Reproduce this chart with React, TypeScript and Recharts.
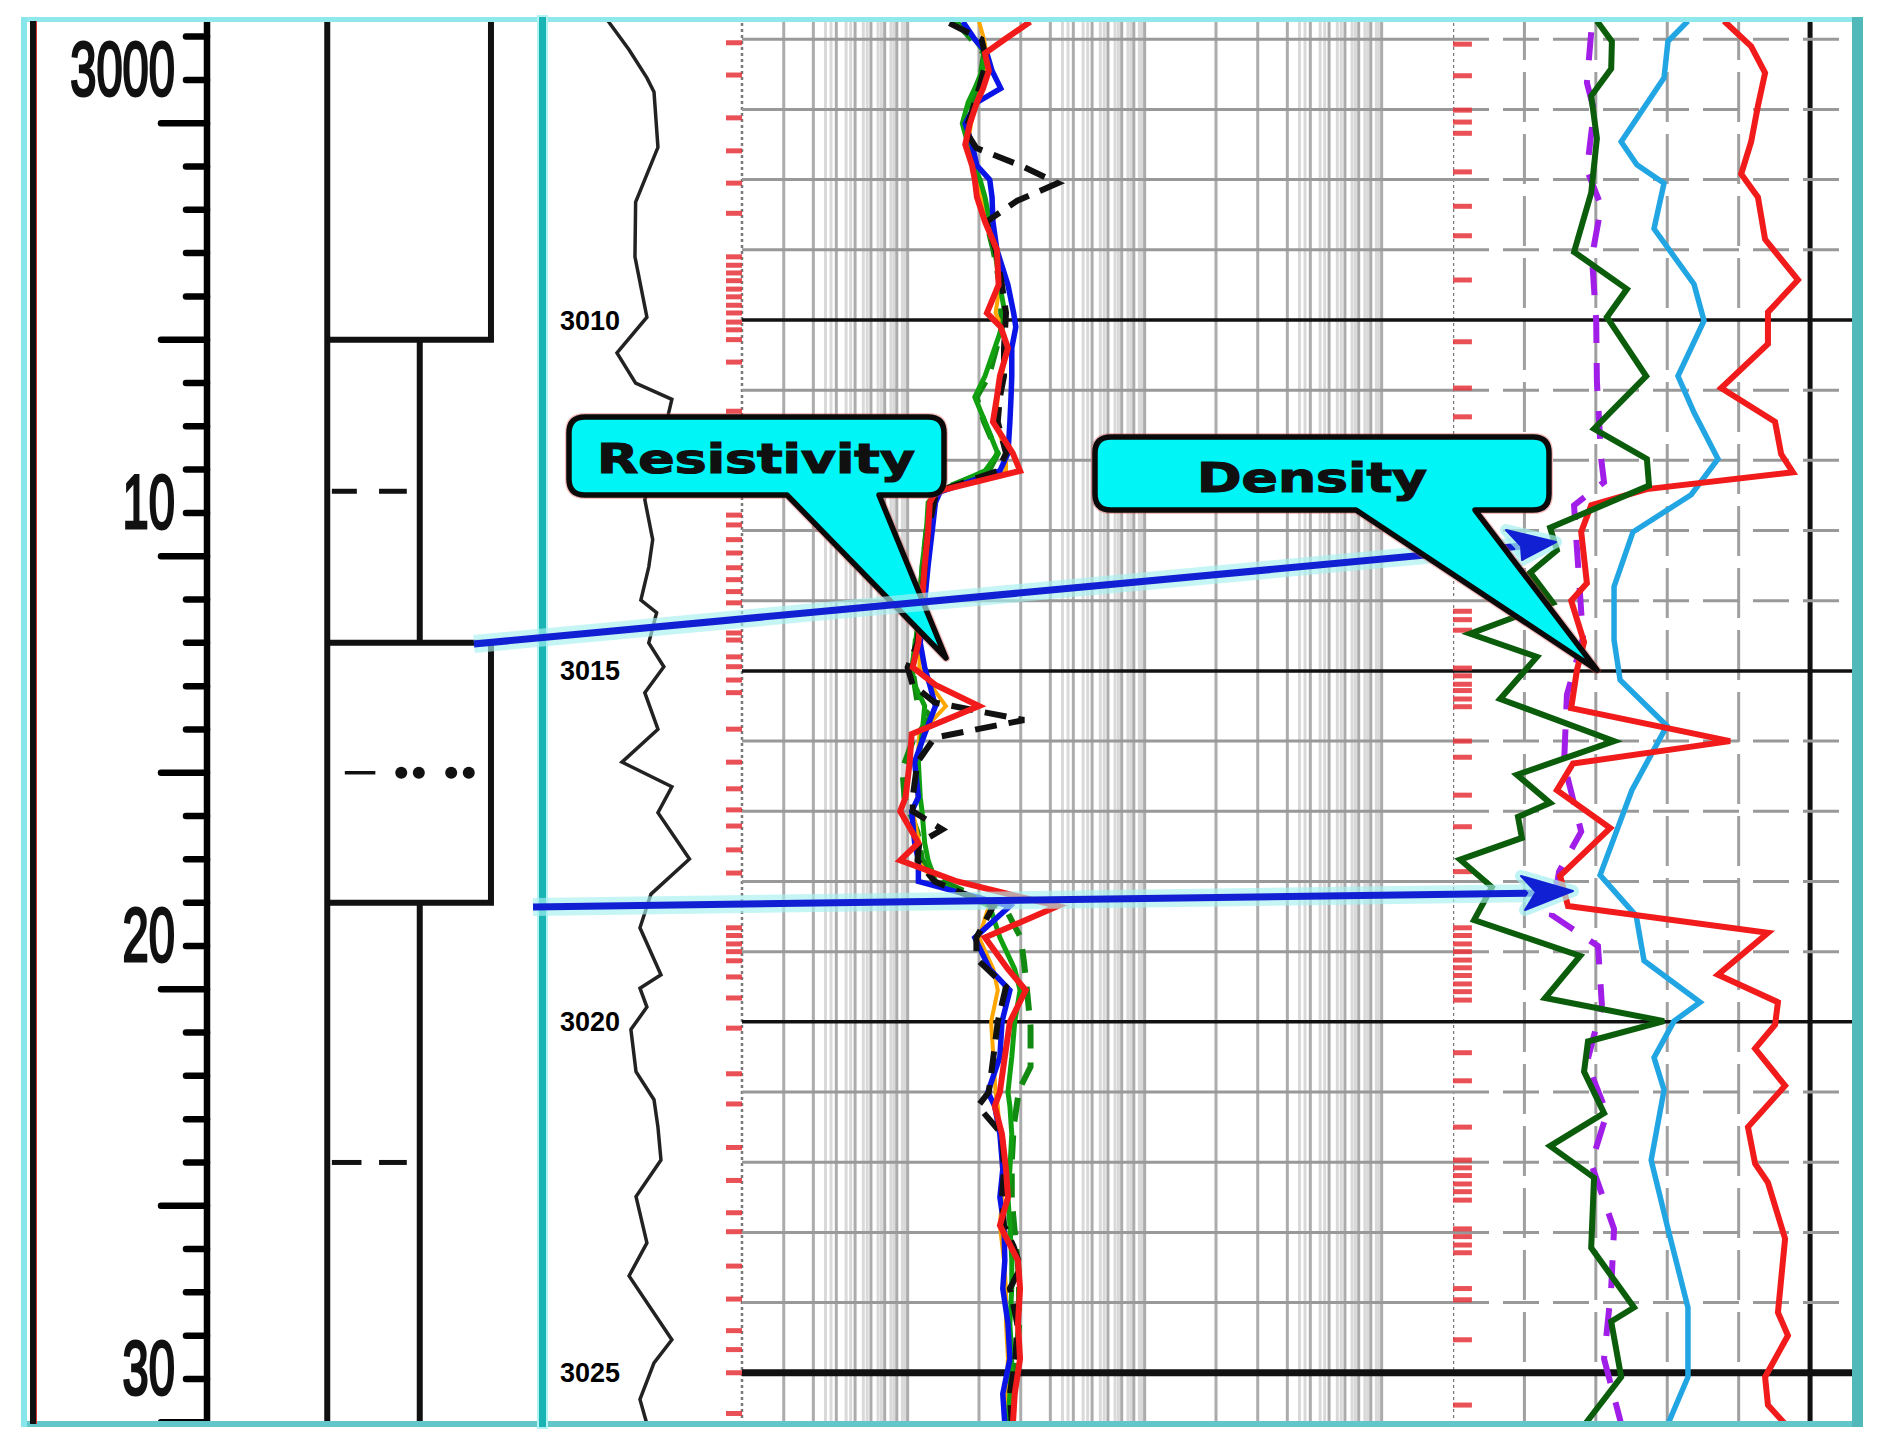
import React from 'react';
import { LineChart, Line, XAxis, YAxis, ReferenceLine, ReferenceArea, ReferenceDot } from 'recharts';

type Pt = [number, number];

// ---------- core description panel (left) ----------
const coreTicks = [2999, 3000, 3001, 3002, 3003, 3004, 3005, 3006, 3007, 3008, 3009, 3010, 3011, 3012, 3013, 3014, 3015, 3016, 3017, 3018, 3019, 3020, 3021, 3022, 3023, 3024, 3025, 3026, 3027, 3028, 3029, 3030, 3031];
const coreLongTicks = [3001, 3006, 3011, 3016, 3021, 3026, 3031];
const coreTickLabels: Record<number, string> = { 3000: '3000', 3010: '10', 3020: '20', 3030: '30' };

// grain-size profile: 0 = base, 1 = fine, 1.77 = coarse
const profileDepths = [2998.64, 3006, 3006, 3006, 3013, 3013, 3013, 3019, 3019, 3019, 3031.04];
const profileWidths = [1.77, 1.77, 0, 1, 1, 0, 1.77, 1.77, 0, 1, 1];
const symbolDashes = [
  { d: 3009.5, from: 0.05, to: 0.32, w: 5 },
  { d: 3009.5, from: 0.56, to: 0.86, w: 5 },
  { d: 3016, from: 0.19, to: 0.52, w: 3.5 },
  { d: 3025, from: 0.05, to: 0.37, w: 5 },
  { d: 3025, from: 0.56, to: 0.86, w: 5 },
];
const symbolDots = [0.8, 0.99, 1.34, 1.53];
const symbolDotDepth = 3016;

// ---------- log panel (right) ----------
const depthMarks = [3010, 3015, 3020, 3025];
const gridDepths = [3006, 3007, 3008, 3009, 3011, 3012, 3013, 3014, 3016, 3017, 3018, 3019, 3021, 3022, 3023, 3024];

const grLog: Pt[] = [
  [3005.74, 48], [3006.15, 64], [3006.55, 77.6], [3006.75, 83], [3007.54, 86], [3008.32, 69], [3009.1, 68.5],
  [3009.96, 77.6], [3010.47, 54.8], [3010.9, 69], [3011.13, 96.6], [3011.85, 87.5], [3012.56, 76], [3013.13, 82],
  [3013.52, 79], [3013.99, 73], [3014.17, 85], [3014.6, 79], [3014.94, 90.5], [3015.31, 76], [3015.83, 86],
  [3016.3, 58.6], [3016.65, 96.6], [3017.02, 86], [3017.68, 110], [3018.18, 80.7], [3018.66, 72.3], [3019.33, 88.3],
  [3019.52, 72.3], [3019.79, 77.6], [3020.11, 65.4], [3020.71, 69.3], [3021.11, 83], [3021.5, 86], [3021.97, 88.3],
  [3022.49, 69.3], [3023.15, 77.6], [3023.62, 64], [3024.53, 96.6], [3024.86, 83], [3025.38, 72.3], [3025.73, 77.6],
];

// resistivity, ohm.m (log track 0.2 - 200)
const resRed: Pt[] = [
  [3005.75, 3.29], [3006.0, 2.57], [3006.2, 2.12], [3006.45, 2.2], [3006.7, 2.08], [3006.9, 1.96], [3007.2, 1.83],
  [3007.5, 1.75], [3007.8, 1.87], [3008.0, 1.92], [3008.25, 1.96], [3008.6, 2.12], [3009.0, 2.38], [3009.5, 2.42],
  [3009.9, 2.16], [3010.1, 2.47], [3010.4, 2.65], [3010.8, 2.45], [3011.1, 2.38], [3011.45, 2.29], [3011.9, 2.78],
  [3012.15, 2.98], [3012.45, 1.31], [3012.6, 1.24], [3013.0, 1.22], [3013.5, 1.18], [3014.0, 1.15], [3014.6, 1.11],
  [3014.95, 1.05], [3015.2, 1.31], [3015.5, 2.0], [3015.9, 1.04], [3016.3, 1.02], [3016.8, 0.98], [3017.0, 0.93],
  [3017.45, 1.11], [3017.7, 0.93], [3018.0, 1.62], [3018.35, 4.3], [3018.8, 2.12], [3019.25, 2.65], [3019.55, 3.15],
  [3020.0, 2.7], [3020.5, 2.57], [3021.0, 2.45], [3021.2, 2.33], [3021.6, 2.5], [3022.1, 2.6], [3022.5, 2.65],
  [3022.9, 2.45], [3023.4, 2.92], [3023.8, 2.98], [3024.3, 2.92], [3024.8, 2.98], [3025.3, 2.83], [3025.73, 2.78],
];
const resBlue: Pt[] = [
  [3005.75, 1.71], [3006.0, 1.92], [3006.2, 2.16], [3006.45, 2.27], [3006.7, 2.47], [3006.9, 1.96], [3007.2, 1.75],
  [3007.5, 1.87], [3007.8, 1.96], [3008.0, 2.22], [3008.25, 2.27], [3008.6, 2.29], [3009.0, 2.38], [3009.5, 2.65],
  [3009.9, 2.8], [3010.1, 2.86], [3010.4, 2.75], [3010.8, 2.75], [3011.1, 2.73], [3011.45, 2.7], [3011.9, 2.65],
  [3012.15, 2.45], [3012.45, 1.37], [3012.6, 1.31], [3013.0, 1.27], [3013.5, 1.22], [3014.0, 1.18], [3014.6, 1.13],
  [3014.95, 1.18], [3015.2, 1.24], [3015.5, 1.31], [3015.9, 1.18], [3016.3, 1.07], [3016.8, 1.11], [3017.0, 1.04],
  [3017.45, 1.07], [3017.7, 1.11], [3018.0, 1.11], [3018.35, 2.7], [3018.8, 1.92], [3019.25, 2.22], [3019.55, 2.7],
  [3020.0, 2.5], [3020.5, 2.45], [3021.0, 2.18], [3021.2, 2.33], [3021.6, 2.45], [3022.1, 2.52], [3022.5, 2.45],
  [3022.9, 2.55], [3023.4, 2.57], [3023.8, 2.52], [3024.3, 2.65], [3024.8, 2.7], [3025.3, 2.52], [3025.73, 2.57],
];
const resGreen: Pt[] = [
  [3005.75, 1.58], [3006.0, 1.92], [3006.2, 2.12], [3006.45, 2.06], [3006.7, 1.92], [3006.9, 1.8], [3007.2, 1.7],
  [3007.5, 1.8], [3007.8, 1.9], [3008.0, 2.02], [3008.25, 2.12], [3008.6, 2.22], [3009.0, 2.33], [3009.5, 2.45],
  [3009.9, 2.57], [3010.1, 2.5], [3010.4, 2.33], [3010.8, 2.12], [3011.1, 1.92], [3011.45, 2.12], [3011.9, 2.4],
  [3012.15, 2.12], [3012.45, 1.33], [3012.6, 1.22], [3013.0, 1.2], [3013.5, 1.15], [3014.0, 1.13], [3014.6, 1.08],
  [3014.95, 1.04], [3015.2, 1.07], [3015.5, 1.18], [3015.9, 1.15], [3016.3, 1.11], [3016.8, 1.13], [3017.0, 1.15],
  [3017.45, 1.18], [3017.7, 1.22], [3018.0, 1.31], [3018.35, 2.22], [3018.8, 2.45], [3019.25, 2.83], [3019.55, 2.98],
  [3020.0, 2.83], [3020.5, 2.75], [3021.0, 2.65], [3021.2, 2.7], [3021.6, 2.75], [3022.1, 2.7], [3022.5, 2.65],
  [3022.9, 2.7], [3023.4, 2.75], [3023.8, 2.75], [3024.3, 2.7], [3024.8, 2.75], [3025.3, 2.7], [3025.73, 2.65],
];
const resOrange: Pt[] = [
  [3005.75, 2.0], [3006.0, 2.1], [3006.2, 2.15], [3006.45, 2.15], [3006.7, 2.05], [3006.9, 1.95], [3007.2, 1.85],
  [3007.5, 1.8], [3007.8, 1.9], [3008.0, 1.98], [3008.25, 2.05], [3008.6, 2.18], [3009.0, 2.35], [3009.5, 2.45],
  [3009.9, 2.35], [3010.1, 2.5], [3010.4, 2.6], [3010.8, 2.5], [3011.1, 2.4], [3011.45, 2.35], [3011.9, 2.6],
  [3012.15, 2.6], [3012.45, 1.35], [3012.6, 1.27], [3013.0, 1.25], [3013.5, 1.2], [3014.0, 1.17], [3014.6, 1.13],
  [3014.95, 1.12], [3015.2, 1.25], [3015.5, 1.45], [3015.9, 1.12], [3016.3, 1.1], [3016.8, 1.1], [3017.0, 1.05],
  [3017.45, 1.12], [3017.7, 1.1], [3018.0, 1.3], [3018.35, 2.2], [3018.8, 2.0], [3019.25, 2.3], [3019.55, 2.4],
  [3020.0, 2.25], [3020.5, 2.3], [3021.0, 2.35], [3021.2, 2.4], [3021.6, 2.45], [3022.1, 2.5], [3022.5, 2.5],
  [3022.9, 2.45], [3023.4, 2.55], [3023.8, 2.6], [3024.3, 2.6], [3024.8, 2.65], [3025.3, 2.6], [3025.73, 2.6],
];
const resBlackDash: Pt[] = [
  [3005.77, 1.5], [3006.0, 2.05], [3006.3, 2.15], [3006.7, 2.0], [3007.0, 1.88], [3007.3, 1.75], [3007.55, 1.95],
  [3007.8, 3.0], [3008.05, 4.3], [3008.3, 2.9], [3008.6, 2.15], [3009.0, 2.35], [3009.5, 2.5], [3009.9, 2.6],
  [3010.4, 2.55], [3010.8, 2.55], [3011.1, 2.45], [3011.45, 2.4], [3011.9, 2.6], [3012.15, 2.4], [3012.45, 1.32],
  [3013.0, 1.22], [3013.5, 1.18], [3014.0, 1.15], [3014.6, 1.1], [3014.95, 1.0], [3015.2, 1.05], [3015.45, 1.3],
  [3015.7, 3.1], [3015.95, 1.3], [3016.3, 1.1], [3016.8, 1.05], [3017.0, 1.05], [3017.26, 1.4], [3017.45, 1.12],
  [3017.7, 1.1], [3018.0, 1.3], [3018.35, 2.3], [3018.8, 1.95], [3019.1, 1.95], [3019.5, 2.6], [3020.0, 2.4],
  [3020.5, 2.3], [3021.0, 2.2], [3021.2, 1.98], [3021.6, 2.5], [3022.1, 2.55], [3022.5, 2.5], [3022.9, 2.55],
  [3023.2, 2.8], [3023.5, 3.0], [3023.8, 2.7], [3024.3, 2.9], [3024.8, 2.85], [3025.3, 2.7], [3025.73, 2.75],
];
const resGreenDash: Pt[] = [
  [3005.75, 1.6], [3006.2, 2.1], [3006.7, 2.0], [3007.2, 1.75], [3007.8, 1.9], [3008.25, 2.05], [3008.6, 2.15],
  [3009.0, 2.3], [3009.5, 2.45], [3010.1, 2.5], [3010.8, 2.2], [3011.1, 1.95], [3011.45, 2.1], [3011.9, 2.4],
  [3012.15, 2.2], [3012.45, 1.3], [3013.0, 1.2], [3014.0, 1.12], [3014.6, 1.08], [3015.0, 1.05], [3015.45, 1.1],
  [3015.65, 1.25], [3016.0, 1.05], [3016.4, 0.95], [3016.8, 0.97], [3017.3, 1.1], [3017.7, 1.15], [3018.0, 1.4],
  [3018.4, 2.6], [3018.8, 3.0], [3019.16, 3.1], [3019.6, 3.2], [3020.07, 3.3], [3020.64, 3.3], [3020.97, 2.95],
  [3021.5, 2.8], [3022.0, 2.75], [3022.54, 2.75], [3023.1, 2.85], [3023.63, 2.95], [3024.34, 2.95], [3024.8, 2.85],
  [3025.28, 2.7], [3025.73, 2.7],
];
const resGridLines = [0.3, 0.4, 0.5, 0.6, 0.7, 0.8, 0.9, 1, 2, 3, 4, 5, 6, 7, 8, 9, 10, 20, 30, 40, 50, 60, 70, 80, 90, 100];
const resShadeLines = [
  0.45, 0.55, 0.65, 0.75, 0.85, 0.95, 0.475, 0.575, 0.675, 0.775, 0.875, 0.975,
  4.5, 5.5, 6.5, 7.5, 8.5, 9.5, 4.75, 5.75, 6.75, 7.75, 8.75, 9.75,
  45, 55, 65, 75, 85, 95, 47.5, 57.5, 67.5, 77.5, 87.5, 97.5,
];

// density / porosity track, % of track scale
const denGreen: Pt[] = [
  [3005.74, 40.3], [3006.03, 44.5], [3006.42, 44.3], [3006.81, 38.7], [3007.41, 40.3], [3008.19, 38.7], [3009.03, 33.9],
  [3009.56, 48.7], [3009.96, 43.1], [3010.8, 54.1], [3011.55, 39.5], [3011.98, 54.3], [3012.36, 54.9], [3012.96, 27.2],
  [3013.28, 29.1], [3013.6, 21.6], [3014.03, 28.0], [3014.47, 4.8], [3014.8, 23.5], [3015.4, 13.2], [3016.0, 45.1],
  [3016.48, 17.9], [3016.88, 27.2], [3017.08, 18.2], [3017.38, 19.3], [3017.69, 2.0], [3018.08, 10.9], [3018.55, 5.9],
  [3019.06, 35.6], [3019.66, 25.8], [3019.99, 59.1], [3020.28, 37.8], [3020.71, 36.7], [3021.3, 42.3], [3021.77, 27.2],
  [3022.22, 39.5], [3023.22, 38.7], [3024.07, 50.7], [3024.27, 44.3], [3025.06, 47.1], [3025.73, 37.0],
];
const denRed: Pt[] = [
  [3005.74, 75.9], [3006.1, 83.5], [3006.48, 87.4], [3006.95, 85.4], [3007.46, 83.5], [3007.92, 80.7], [3008.25, 85.4],
  [3008.85, 87.4], [3009.43, 96.6], [3009.89, 88.2], [3010.34, 88.2], [3010.97, 75.1], [3011.45, 90.2], [3011.91, 91.9],
  [3012.17, 95.2], [3012.41, 54.3], [3012.64, 38.7], [3013.02, 35.9], [3013.75, 37.5], [3014.0, 33.1], [3014.59, 36.7],
  [3014.99, 34.7], [3015.53, 33.1], [3016.0, 77.6], [3016.32, 33.6], [3016.7, 29.1], [3017.24, 44.0], [3017.92, 30.0],
  [3018.35, 32.2], [3018.73, 88.2], [3019.33, 74.2], [3019.72, 91.0], [3020.04, 90.2], [3020.38, 84.6], [3020.91, 93.0],
  [3021.5, 82.6], [3022.02, 84.6], [3022.29, 88.2], [3023.09, 93.0], [3024.14, 91.0], [3024.47, 93.8], [3025.06, 87.4],
  [3025.46, 88.2], [3025.73, 93.0],
];
const denBlue: Pt[] = [
  [3005.74, 65.8], [3006.03, 60.2], [3006.55, 59.1], [3007.46, 47.1], [3007.79, 51.5], [3008.05, 59.1], [3008.7, 56.3],
  [3009.49, 67.5], [3010.01, 70.3], [3010.8, 63.0], [3011.32, 67.5], [3011.98, 74.2], [3012.49, 66.7], [3013.02, 50.4],
  [3013.8, 45.1], [3014.56, 45.1], [3015.13, 46.8], [3015.78, 59.9], [3016.7, 50.1], [3017.91, 41.2], [3018.49, 51.3],
  [3019.13, 53.5], [3019.72, 69.2], [3019.99, 61.9], [3020.51, 56.3], [3020.97, 59.1], [3021.97, 55.5], [3022.95, 60.2],
  [3024.07, 65.8], [3025.06, 65.8], [3025.73, 60.2],
];
const denPurple: Pt[] = [
  [3005.9, 38.7], [3006.62, 37.5], [3007.01, 39.5], [3007.86, 37.5], [3008.38, 41.5], [3009.1, 38.9], [3010.01, 40.1],
  [3010.87, 40.3], [3011.98, 41.5], [3012.31, 42.3], [3012.64, 33.9], [3013.93, 35.6], [3014.53, 36.4], [3015.34, 31.9],
  [3016.32, 31.1], [3017.29, 35.9], [3017.86, 29.7], [3018.48, 27.7], [3018.92, 40.6], [3019.76, 41.7], [3020.58, 37.5],
  [3021.3, 43.1], [3022.02, 38.7], [3022.95, 45.1], [3023.8, 44.3], [3024.8, 42.3], [3025.73, 47.1],
];
const denGridLines = [20, 40, 60, 80];

// core sample marks beside the tracks
const marksRes = [
  3006.05, 3006.51, 3007.12, 3007.59, 3008.05, 3008.48, 3009.1, 3009.22, 3009.33, 3009.44, 3009.56, 3009.67, 3009.79,
  3009.9, 3010.03, 3010.14, 3010.28, 3010.6, 3011.3, 3012.78, 3012.92, 3013.13, 3013.32, 3013.53, 3013.7, 3013.87,
  3014.03, 3014.46, 3014.56, 3014.8, 3014.94, 3015.13, 3015.31, 3015.83, 3016.3, 3016.68, 3016.98, 3017.21, 3017.55,
  3017.88, 3018.66, 3018.77, 3018.89, 3019.0, 3019.13, 3019.36, 3019.66, 3020.09, 3020.74, 3021.17, 3021.79, 3022.26,
  3022.72, 3022.99, 3023.48, 3023.95, 3024.4, 3024.67, 3025.0, 3025.58,
];
const marksDen = [
  3006.07, 3006.52, 3007.01, 3007.18, 3007.34, 3007.89, 3008.38, 3008.8, 3009.43, 3010.31, 3010.97, 3011.38, 3014.15,
  3014.27, 3014.42, 3014.96, 3015.07, 3015.19, 3015.28, 3015.4, 3015.51, 3016.0, 3016.23, 3016.77, 3017.22, 3017.86,
  3018.66, 3018.77, 3018.89, 3019.0, 3019.12, 3019.23, 3019.34, 3019.46, 3019.57, 3019.69, 3020.44, 3020.84, 3021.5,
  3021.97, 3022.08, 3022.19, 3022.31, 3022.42, 3022.54, 3022.95, 3023.06, 3023.18, 3023.29, 3023.8, 3023.96, 3024.53,
  3025.46,
];

// annotations, figure coordinates
const arrows = [
  { from: [474, 644], to: [1522, 546], tip: [1556, 542], barbs: [[1506, 530], [1521, 546], [1522, 560]] },
  { from: [533, 907], to: [1537, 893], tip: [1573, 891], barbs: [[1521, 876], [1536, 892], [1525, 910]] },
];
const callouts = [
  { text: 'Resistivity', box: [569, 417, 944, 495], tailBase: [787, 879], tip: [946, 658], textX: 756, textY: 473, textLen: 318 },
  { text: 'Density', box: [1095, 437, 1549, 510], tailBase: [1356, 1475], tip: [1597, 670], textX: 1312, textY: 492, textLen: 230 },
];

const TOP = 21;
const HEIGHT = 1403;
const LOG_DOMAIN: [number, number] = [3005.74, 3025.73];
const CORE_DOMAIN: [number, number] = [2998.64, 3031.04];
const M = { top: 0, right: 0, bottom: 0, left: 0 };

const rows = (pts: Pt[]) => pts.map(([d, v]) => ({ d, v }));

function CoreTick(props: any) {
  const { x, y, payload } = props;
  const d = payload.value;
  const len = coreLongTicks.includes(d) ? 46 : 21;
  const label = coreTickLabels[d];
  return (
    <g>
      <line x1={x - len} x2={x} y1={y} y2={y} stroke="#000" strokeWidth={6.5} strokeLinecap="round" />
      {label && (
        <text
          transform={`translate(${x - 32}, ${y + 15}) scale(0.62, 1)`}
          textAnchor="end"
          fontSize={76}
          fontFamily="'Liberation Sans', Arial, sans-serif"
          fill="#111"
          stroke="#111"
          strokeWidth={3}
        >
          {label}
        </text>
      )}
    </g>
  );
}

function Callout({ c, x, y, width, height }: any) {
  const [x1, y1, x2, y2] = c.box;
  const sx = width / (x2 - x1);
  const sy = height / (y2 - y1);
  const px = (v: number) => x + (v - x1) * sx;
  const py = (v: number) => y + (v - y1) * sy;
  const r = 16;
  const b = y + height;
  const path =
    `M${x + r},${y} H${x + width - r} Q${x + width},${y} ${x + width},${y + r} V${b - r} ` +
    `Q${x + width},${b} ${x + width - r},${b} H${px(c.tailBase[1])} L${px(c.tip[0])},${py(c.tip[1])} ` +
    `L${px(c.tailBase[0])},${b} H${x + r} Q${x},${b} ${x},${b - r} V${y + r} Q${x},${y} ${x + r},${y} Z`;
  return (
    <g>
      <path d={path} fill="#00f6f6" stroke="#e04040" strokeWidth={8} strokeLinejoin="round" opacity={0.35} />
      <path d={path} fill="#00f6f6" stroke="#0a0a0a" strokeWidth={5.5} strokeLinejoin="round" />
      <text
        x={px(c.textX)}
        y={py(c.textY)}
        textAnchor="middle"
        fontSize={40}
        fontWeight="bold"
        fontFamily="'DejaVu Sans', 'Liberation Sans', sans-serif"
        fill="#101010"
        stroke="#101010"
        strokeWidth={1.2}
        textLength={c.textLen}
        lengthAdjust="spacingAndGlyphs"
      >
        {c.text}
      </text>
    </g>
  );
}

function Overlay({ children }: { children: React.ReactNode }) {
  return (
    <div style={{ position: 'absolute', left: 0, top: 0 }}>
      <LineChart width={1882} height={1446} margin={M}>
        <XAxis type="number" dataKey="x" domain={[0, 1882]} allowDataOverflow hide />
        <YAxis type="number" domain={[0, 1446]} reversed allowDataOverflow hide />
        {children}
      </LineChart>
    </div>
  );
}

const bar = (left: number, top: number, width: number, height: number, background: string, extra = {}) => (
  <div style={{ position: 'absolute', left, top, width, height, background, ...extra }} />
);

export default function App() {
  const font = "'Liberation Sans', Arial, sans-serif";
  return (
    <div style={{ position: 'absolute', left: 0, top: 0, width: 1882, height: 1446, background: '#fff', overflow: 'hidden' }}>
      {/* core description + depth scale */}
      <div style={{ position: 'absolute', left: 26, top: TOP }}>
        <LineChart width={514} height={HEIGHT} layout="vertical" margin={M}>
          <XAxis type="number" domain={[-1.3, 2.3]} allowDataOverflow hide />
          <YAxis
            type="number"
            dataKey="d"
            domain={CORE_DOMAIN}
            allowDataOverflow
            width={181}
            ticks={coreTicks}
            interval={0}
            tickSize={0}
            tickMargin={0}
            tickLine={false}
            axisLine={{ stroke: '#000', strokeWidth: 6.5 }}
            tick={(p: any) => <CoreTick {...p} />}
          />
          <ReferenceLine x={0} stroke="#111" strokeWidth={6} />
          <Line
            data={profileDepths.map((d, i) => ({ d, v: profileWidths[i] }))}
            dataKey="v"
            stroke="#111"
            strokeWidth={6}
            dot={false}
            isAnimationActive={false}
          />
          {symbolDashes.map((s, i) => (
            <Line
              key={'sd' + i}
              data={[{ d: s.d, v: s.from }, { d: s.d, v: s.to }]}
              dataKey="v"
              stroke="#111"
              strokeWidth={s.w}
              dot={false}
              isAnimationActive={false}
            />
          ))}
          {symbolDots.map((v, i) => (
            <ReferenceDot key={'dot' + i} x={v} y={symbolDotDepth} r={6} fill="#111" stroke="none" />
          ))}
        </LineChart>
      </div>

      {/* GR track with depth labels */}
      <div style={{ position: 'absolute', left: 545, top: TOP }}>
        <LineChart width={197} height={HEIGHT} layout="vertical" margin={M}>
          <XAxis type="number" domain={[0, 150]} allowDataOverflow hide />
          <YAxis type="number" dataKey="d" domain={LOG_DOMAIN} allowDataOverflow hide />
          {depthMarks.map((d) => (
            <ReferenceLine
              key={'lab' + d}
              y={d}
              stroke="none"
              label={{ value: String(d), position: 'insideLeft', offset: 15, fill: '#000', fontSize: 27, fontWeight: 700, fontFamily: font }}
            />
          ))}
          <ReferenceLine x={150} stroke="#7a7a7a" strokeWidth={2.5} strokeDasharray="3 3" />
          {marksRes.map((d, i) => (
            <ReferenceLine
              key={'mr' + i}
              segment={[{ x: 137.8, y: d }, { x: 150, y: d }]}
              stroke="#e63338"
              strokeWidth={5}
              strokeOpacity={0.85}
            />
          ))}
          <Line data={rows(grLog)} dataKey="v" stroke="#222" strokeWidth={3.5} dot={false} isAnimationActive={false} />
        </LineChart>
      </div>

      {/* resistivity track, log scale */}
      <div style={{ position: 'absolute', left: 742, top: TOP }}>
        <LineChart width={711} height={HEIGHT} layout="vertical" margin={M}>
          <XAxis type="number" scale="log" domain={[0.2, 200]} allowDataOverflow hide />
          <YAxis type="number" dataKey="d" domain={LOG_DOMAIN} allowDataOverflow hide />
          {resShadeLines.map((v) => (
            <ReferenceLine key={'rs' + v} x={v} stroke="#d9d9d9" strokeWidth={3} />
          ))}
          {resGridLines.map((v) => (
            <ReferenceLine key={'rg' + v} x={v} stroke="#acacac" strokeWidth={3} />
          ))}
          <ReferenceLine x={0.2} stroke="#7a7a7a" strokeWidth={2.5} strokeDasharray="3 3" />
          {gridDepths.map((d) => (
            <ReferenceLine key={'rh' + d} y={d} stroke="#999" strokeWidth={3} />
          ))}
          {depthMarks.map((d) => (
            <ReferenceLine key={'rb' + d} y={d} stroke="#111" strokeWidth={d === 3025 ? 7 : 3.5} />
          ))}
          <Line data={rows(resGreenDash)} dataKey="v" stroke="#128a12" strokeWidth={6} strokeDasharray="24 14" dot={false} isAnimationActive={false} />
          <Line data={rows(resOrange)} dataKey="v" stroke="#ffa600" strokeWidth={4} dot={false} isAnimationActive={false} />
          <Line data={rows(resGreen)} dataKey="v" stroke="#10a010" strokeWidth={5} dot={false} isAnimationActive={false} />
          <Line data={rows(resBlue)} dataKey="v" stroke="#0a14e6" strokeWidth={5.5} dot={false} isAnimationActive={false} />
          <Line data={rows(resBlackDash)} dataKey="v" stroke="#111" strokeWidth={6} strokeDasharray="22 12" dot={false} isAnimationActive={false} />
          <Line data={rows(resRed)} dataKey="v" stroke="#f21b1b" strokeWidth={6} dot={false} isAnimationActive={false} />
        </LineChart>
      </div>

      {/* density / porosity track */}
      <div style={{ position: 'absolute', left: 1453, top: TOP }}>
        <LineChart width={401} height={HEIGHT} layout="vertical" margin={M}>
          <XAxis type="number" domain={[0, 112.3]} allowDataOverflow hide />
          <YAxis type="number" dataKey="d" domain={LOG_DOMAIN} allowDataOverflow hide />
          {denGridLines.map((v) => (
            <ReferenceLine key={'dg' + v} x={v} stroke="#a0a0a0" strokeWidth={3} strokeDasharray="50 12" />
          ))}
          <ReferenceLine x={100} stroke="#111" strokeWidth={5} />
          <ReferenceLine x={0} stroke="#7a7a7a" strokeWidth={2.5} strokeDasharray="3 3" />
          {gridDepths.map((d) => (
            <ReferenceLine key={'dh' + d} y={d} stroke="#999" strokeWidth={3} strokeDasharray="36 14" />
          ))}
          {depthMarks.map((d) => (
            <ReferenceLine key={'db' + d} y={d} stroke="#111" strokeWidth={d === 3025 ? 7 : 3.5} />
          ))}
          {marksDen.map((d, i) => (
            <ReferenceLine
              key={'md' + i}
              segment={[{ x: 0, y: d }, { x: 5.3, y: d }]}
              stroke="#e63338"
              strokeWidth={5}
              strokeOpacity={0.85}
            />
          ))}
          <Line data={rows(denPurple)} dataKey="v" stroke="#a11ee8" strokeWidth={6} strokeDasharray="28 20" dot={false} isAnimationActive={false} />
          <Line data={rows(denBlue)} dataKey="v" stroke="#22a6e3" strokeWidth={5.5} dot={false} isAnimationActive={false} />
          <Line data={rows(denRed)} dataKey="v" stroke="#f21b1b" strokeWidth={6} dot={false} isAnimationActive={false} />
          <Line data={rows(denGreen)} dataKey="v" stroke="#0b5d0b" strokeWidth={6} dot={false} isAnimationActive={false} />
        </LineChart>
      </div>

      {/* frame */}
      {bar(21, 17, 1842, 5, '#8fe9ec')}
      {bar(21, 1421, 1842, 6, '#63c7c9')}
      {bar(21, 17, 6, 1410, '#86e6ea')}
      {bar(1852, 17, 11, 1410, '#52b9ba')}
      {bar(539, 17, 7, 1410, '#1bb4b4', { boxShadow: '0 0 0 2px #b5f3f3' })}
      {bar(30, 21, 5.5, 1403, '#111')}
      {bar(35.5, 21, 1.5, 1403, '#d33')}

      {/* Resistivity callout */}
      <Overlay>
        <ReferenceArea
          x1={callouts[0].box[0]}
          x2={callouts[0].box[2]}
          y1={callouts[0].box[1]}
          y2={callouts[0].box[3]}
          shape={(p: any) => <Callout c={callouts[0]} {...p} />}
        />
      </Overlay>

      {/* correlation arrows */}
      <Overlay>
        {arrows.map((a, i) => (
          <Line
            key={'glow' + i}
            data={[{ x: a.from[0], y: a.from[1] }, { x: a.to[0], y: a.to[1] }]}
            dataKey="y"
            stroke="#a6f0f0"
            strokeWidth={18}
            strokeOpacity={0.65}
            dot={false}
            isAnimationActive={false}
          />
        ))}
        {arrows.map((a, i) => (
          <Line
            key={'arr' + i}
            data={[{ x: a.from[0], y: a.from[1] }, { x: a.to[0], y: a.to[1] }]}
            dataKey="y"
            stroke="#1020d2"
            strokeWidth={7}
            dot={false}
            isAnimationActive={false}
          />
        ))}
        {arrows.map((a, i) => (
          <ReferenceDot
            key={'head' + i}
            x={a.tip[0]}
            y={a.tip[1]}
            r={1}
            shape={(p: any) => {
              const pts = [a.tip, a.barbs[0], a.barbs[1], a.barbs[2]]
                .map(([bx, by]) => `${p.cx + bx - a.tip[0]},${p.cy + by - a.tip[1]}`)
                .join(' ');
              return (
                <g>
                  <polygon points={pts} fill="#a6f0f0" stroke="#a6f0f0" strokeWidth={12} strokeLinejoin="round" opacity={0.7} />
                  <polygon points={pts} fill="#1020d2" stroke="#1020d2" strokeWidth={2} strokeLinejoin="round" />
                </g>
              );
            }}
          />
        ))}
      </Overlay>

      {/* Density callout */}
      <Overlay>
        <ReferenceArea
          x1={callouts[1].box[0]}
          x2={callouts[1].box[2]}
          y1={callouts[1].box[1]}
          y2={callouts[1].box[3]}
          shape={(p: any) => <Callout c={callouts[1]} {...p} />}
        />
      </Overlay>
    </div>
  );
}
